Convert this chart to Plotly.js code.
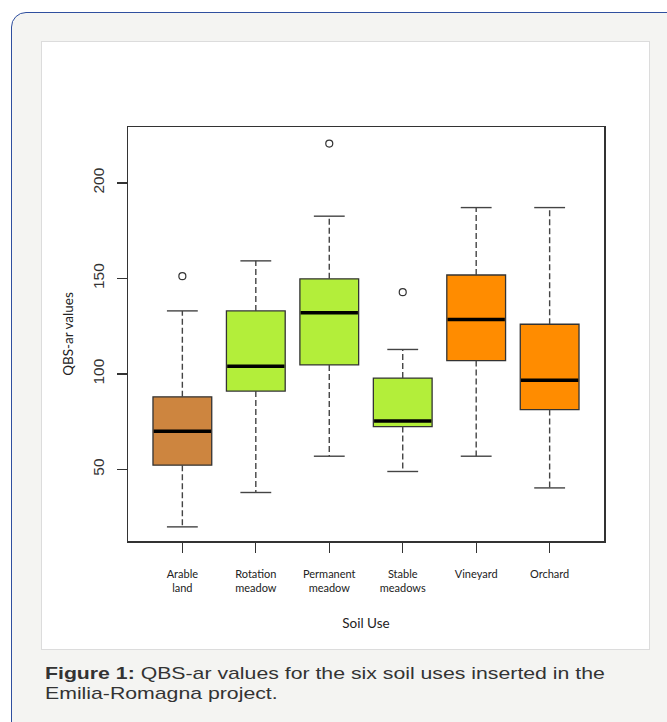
<!DOCTYPE html>
<html>
<head>
<meta charset="utf-8">
<script src="https://cdn.plot.ly/plotly-3.0.1.min.js"></script>
<style>
  html, body { margin: 0; padding: 0; background: #ffffff; width: 667px; height: 722px; overflow: hidden; }
  #outer { position: absolute; left: 11px; top: 12px; width: 700px; height: 740px;
           border: 1.5px solid #2f4f9f; border-radius: 15px; background: #f4f4f2; box-sizing: border-box; }
  #panel { position: absolute; left: 41px; top: 40.5px; width: 609px; height: 609.5px;
           background: #ffffff; border: 1px solid #dcdcdc; box-sizing: border-box; }
  #caption { position: absolute; left: 45px; top: 663.5px; font-family: "Liberation Sans", Arial, sans-serif;
             font-size: 17px; line-height: 20px; color: #333333; white-space: nowrap;
             transform: scaleX(1.25); transform-origin: 0 0; }
  #chart { position: absolute; left: 0; top: 0; width: 667px; height: 722px; }
</style>
</head>
<body>
<div id="outer"></div>
<div id="panel"></div>
<div id="chart"></div>
<div id="caption"><b>Figure 1:</b> QBS-ar values for the six soil uses inserted in the<br>Emilia-Romagna project.</div>
<script>
// ---- data ----
const categories = ["Arable<br>land", "Rotation<br>meadow", "Permanent<br>meadow", "Stable<br>meadows", "Vineyard", "Orchard"];
const lowerWhisker = [19.9, 37.9, 56.9, 48.9, 56.9, 40.3];
const q1Values     = [52.2, 91.0, 104.7, 72.4, 107.0, 81.3];
const medianValues = [70.0, 104.0, 132.0, 75.4, 128.5, 96.7];
const q3Values     = [88.0, 133.0, 149.8, 97.8, 151.8, 126.0];
const upperWhisker = [133.0, 159.2, 182.6, 112.8, 187.1, 187.1];
const outlierGroup = [1, 3, 4];
const outlierValues = [151.2, 220.6, 142.8];
const boxColors = ["#CD853F", "#B3EE3A", "#B3EE3A", "#B3EE3A", "#FF8C00", "#FF8C00"];
const yTicks = [50, 100, 150, 200];

// ---- build traces ----
const pos = categories.map((c, i) => i + 1);
const boxHalf = 0.4, capHalf = 0.21;

const boxes = {
  type: "bar", x: pos, base: q1Values,
  y: q3Values.map((v, i) => v - q1Values[i]),
  width: pos.map(() => 2 * boxHalf),
  marker: { color: boxColors, line: { color: "#333333", width: 1.3 } },
  hoverinfo: "skip", showlegend: false
};

const wx = [], wy = [];
pos.forEach((p, i) => {
  wx.push(p, p, null, p, p, null);
  wy.push(q3Values[i], upperWhisker[i], null, q1Values[i], lowerWhisker[i], null);
});
const whiskers = {
  type: "scatter", mode: "lines", x: wx, y: wy,
  line: { color: "#444444", width: 1.4, dash: "6px,3px" },
  hoverinfo: "skip", showlegend: false
};

const cx = [], cy = [];
pos.forEach((p, i) => {
  cx.push(p - capHalf, p + capHalf, null, p - capHalf, p + capHalf, null);
  cy.push(upperWhisker[i], upperWhisker[i], null, lowerWhisker[i], lowerWhisker[i], null);
});
const caps = {
  type: "scatter", mode: "lines", x: cx, y: cy,
  line: { color: "#444444", width: 1.4 },
  hoverinfo: "skip", showlegend: false
};

const mx = [], my = [];
pos.forEach((p, i) => {
  mx.push(p - boxHalf + 0.01, p + boxHalf - 0.01, null);
  my.push(medianValues[i], medianValues[i], null);
});
const medians = {
  type: "scatter", mode: "lines", x: mx, y: my,
  line: { color: "#000000", width: 3.5 },
  hoverinfo: "skip", showlegend: false
};

const outliers = {
  type: "scatter", mode: "markers", x: outlierGroup, y: outlierValues,
  marker: { symbol: "circle-open", size: 7, color: "#333333", line: { width: 1.2, color: "#333333" } },
  hoverinfo: "skip", showlegend: false
};

const layout = {
  width: 667, height: 722,
  margin: { l: 128, r: 63, t: 127, b: 181, pad: 0 },
  paper_bgcolor: "rgba(0,0,0,0)", plot_bgcolor: "#ffffff",
  showlegend: false,
  xaxis: {
    range: [0.26, 6.74], tickmode: "array", tickvals: pos, ticktext: categories,
    ticks: "outside", ticklen: 10, tickwidth: 1.3, tickcolor: "#333333",
    showline: true, mirror: true, linecolor: "#333333", linewidth: 1.5,
    showgrid: false, zeroline: false, automargin: false,
    tickfont: { family: "Lato, 'Open Sans', sans-serif", size: 11, color: "#222222" },
    ticklabelstandoff: 12,
    title: { text: "Soil Use", font: { family: "Lato, 'Open Sans', sans-serif", size: 13.5, color: "#222222" }, standoff: 25 }
  },
  yaxis: {
    range: [12.5, 229.3], tickmode: "array", tickvals: yTicks, ticktext: yTicks.map(String),
    ticks: "outside", ticklen: 10, tickwidth: 1.3, tickcolor: "#333333",
    showline: true, mirror: true, linecolor: "#333333", linewidth: 1.5,
    showgrid: false, zeroline: false, automargin: false, tickangle: -90,
    tickfont: { family: "'Liberation Sans', Arial, sans-serif", size: 15.5, color: "#333333" },
    ticklabelstandoff: 6,
    title: { text: "QBS-ar values", font: { family: "Lato, 'Open Sans', sans-serif", size: 13.5, color: "#222222" }, standoff: 13 }
  }
};

Plotly.newPlot("chart", [whiskers, caps, boxes, medians, outliers], layout, { staticPlot: true, displayModeBar: false });
</script>
</body>
</html>
